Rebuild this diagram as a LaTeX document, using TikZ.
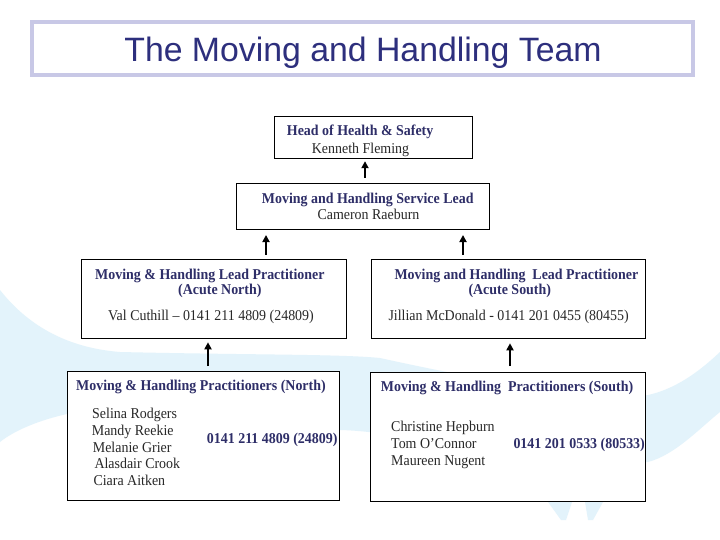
\documentclass[tikz,border=0pt]{standalone}
\usepackage{fontspec}
\setmainfont[FakeStretch=0.93]{Liberation Serif}
\newfontfamily\titlefont{Liberation Sans}
\usetikzlibrary{arrows.meta}
\definecolor{navy}{RGB}{46,46,104}
\definecolor{ink}{RGB}{40,40,40}
\definecolor{titleblue}{RGB}{45,47,125}
\definecolor{framec}{RGB}{200,200,230}
\definecolor{swoosh}{RGB}{227,243,251}
\tikzset{
  box/.style={draw=black,line width=1pt,fill=white,inner sep=0pt},
  txt/.style={inner sep=0pt,anchor=base west,font=\fontsize{15}{17}\selectfont,text=ink},
  txtb/.style={inner sep=0pt,anchor=base west,font=\fontsize{15}{17}\selectfont\bfseries,text=navy},
  arr/.style={line width=1.8pt,-{Triangle[width=7pt,length=7pt]}},
}
\begin{document}
\begin{tikzpicture}[x=1pt,y=-1pt]
\useasboundingbox (0,0) rectangle (720,540);
\fill[white] (0,0) rectangle (720,540);
% background swoosh
\fill[swoosh] (0,290) .. controls (30,328) and (70,348) .. (120,352)
  .. controls (250,355) and (340,354) .. (380,358)
  .. controls (480,380) and (600,402) .. (648,395)
  .. controls (680,388) and (705,366) .. (720,352)
  -- (720,412) .. controls (700,428) and (675,455) .. (648,462)
  .. controls (520,470) and (420,432) .. (340,430)
  .. controls (250,428) and (120,400) .. (67,414)
  .. controls (40,420) and (15,430) .. (0,442) -- cycle;
\fill[swoosh] (548,502) -- (572,502) -- (566,520) -- (561,520) -- cycle;
\fill[swoosh] (585,502) -- (603,502) -- (593,520) -- (588,520) -- cycle;
% title
\node[draw=framec,line width=4pt,fill=white,minimum width=661pt,minimum height=53pt,inner sep=0pt] (tbox) at (362.5,48.5) {};
\node[anchor=base,inner sep=0pt,text=titleblue,font=\titlefont\fontsize{33.8}{40}\selectfont] (title) at (363,62) {The Moving and Handling Team};
% boxes
\node[box,minimum width=198pt,minimum height=42pt] (head) at (373,137.2) {};
\node[box,minimum width=253pt,minimum height=46pt] (svc) at (362.5,207) {};
\node[box,minimum width=265pt,minimum height=79pt] (nlead) at (214.2,298.8) {};
\node[box,minimum width=274pt,minimum height=79pt] (slead) at (508.7,298.8) {};
\node[box,minimum width=272pt,minimum height=129pt] (nprac) at (203.3,436.2) {};
\node[box,minimum width=275pt,minimum height=129pt] (sprac) at (508.2,437.2) {};
% texts
\node[txtb] (h1) at (286.7,136) {Head of Health \& Safety};
\node[txt] (h2) at (311.7,153.3) {Kenneth Fleming};
\node[txtb] (s1) at (261.7,203.3) {Moving and Handling Service Lead};
\node[txt] (s2) at (317.3,220) {Cameron Raeburn};
\node[txtb] (nl1) at (95,279.3) {Moving \& Handling Lead Practitioner};
\node[txtb] (nl2) at (178,294.3) {(Acute North)};
\node[txt] (nl3) at (108,320) {Val Cuthill – 0141 211 4809 (24809)};
\node[txtb] (sl1) at (394.3,279.3) {Moving and Handling\ \ Lead Practitioner};
\node[txtb] (sl2) at (468.3,294.3) {(Acute South)};
\node[txt] (sl3) at (388.3,320) {Jillian McDonald - 0141 201 0455 (80455)};
\node[txtb] (np0) at (76,390.7) {Moving \& Handling Practitioners (North)};
\node[txt] (np1) at (92,418.3) {Selina Rodgers};
\node[txt] (np2) at (91.7,435) {Mandy Reekie};
\node[txt] (np3) at (92.7,452) {Melanie Grier};
\node[txt] (np4) at (94.3,468.7) {Alasdair Crook};
\node[txt] (np5) at (93.3,485.3) {Ciara Aitken};
\node[txtb] (npt) at (206.7,443.3) {0141 211 4809 (24809)};
\node[txtb] (sp0) at (380.7,391.7) {Moving \& Handling\ \ Practitioners (South)};
\node[txt] (sp1) at (391,431) {Christine Hepburn};
\node[txt] (sp2) at (391,448) {Tom O’Connor};
\node[txt] (sp3) at (391,465) {Maureen Nugent};
\node[txtb] (spt) at (513.3,448) {0141 201 0533 (80533)};
% arrows
\coordinate (ax0) at (365,0);
\coordinate (ax1) at (266,0);
\coordinate (ax2) at (463,0);
\coordinate (ax3) at (208,0);
\coordinate (ax4) at (510,0);
\draw[arr,shorten <=5.5pt,shorten >=2.5pt] (svc.north -| ax0) -- (head.south -| ax0);
\draw[arr,shorten <=4pt,shorten >=4.5pt] (nlead.north -| ax1) -- (svc.south -| ax1);
\draw[arr,shorten <=4pt,shorten >=4.5pt] (slead.north -| ax2) -- (svc.south -| ax2);
\draw[arr,shorten <=5pt,shorten >=3.5pt] (nprac.north -| ax3) -- (nlead.south -| ax3);
\draw[arr,shorten <=6pt,shorten >=4.5pt] (sprac.north -| ax4) -- (slead.south -| ax4);
\end{tikzpicture}
\end{document}
